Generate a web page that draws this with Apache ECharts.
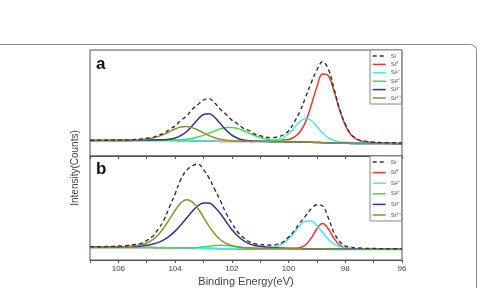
<!DOCTYPE html>
<html><head><meta charset="utf-8">
<script src="https://cdn.jsdelivr.net/npm/echarts@6.0.0/dist/echarts.min.js"></script>
<style>html,body{margin:0;padding:0;background:#fff}#c{width:480px;height:288px}</style>
</head><body><div id="c"></div>
<script>
// Binding energy grid (eV)
const energy = [107.0,106.8,106.6,106.4,106.2,106.0,105.8,105.6,105.4,105.2,
  105.0,104.8,104.6,104.4,104.2,104.0,103.8,103.6,103.4,103.2,
  103.0,102.8,102.6,102.4,102.2,102.0,101.8,101.6,101.4,101.2,
  101.0,100.8,100.6,100.4,100.2,100.0,99.8,99.6,99.4,99.2,
  99.0,98.8,98.6,98.4,98.2,98.0,97.8,97.6,97.4,97.2,
  97.0,96.8,96.6,96.4,96.2,96.0];

// Panel a
const bgA = [15.6,15.6,15.6,15.6,15.6,15.6,15.6,15.6,15.6,15.6,
  15.6,15.5,15.5,15.5,15.4,15.4,15.3,15.2,15.1,15.0,
  14.9,14.8,14.7,14.6,14.5,14.4,14.4,14.3,14.3,14.2,
  14.2,14.2,14.1,14.1,14.1,14.0,14.0,13.9,13.8,13.7,
  13.5,13.3,13.1,12.9,12.8,12.7,12.6,12.6,12.5,12.5,
  12.5,12.4,12.4,12.4,12.3,12.3];
const siA = [0.2,0.0,0.3,0.2,0.4,0.3,0.6,0.5,1.0,1.3,
  2.2,3.0,5.3,7.0,11.2,14.6,20.3,24.6,31.4,36.2,
  41.1,42.6,38.2,32.0,27.1,21.5,17.9,13.6,11.2,7.8,
  6.1,4.6,4.2,4.9,6.9,11.0,19.8,30.5,44.8,59.6,
  72.5,81.0,74.0,55.0,34.2,19.3,9.1,4.9,2.5,2.0,
  1.2,1.1,0.8,1.0,0.7,0.8];
const si0A = [0,0,0,0,0,0,0,0,0,0,
  0,0,0,0,0,0,0,0,0,0,
  0,0,0,0,0,0,0.1,0.2,0.3,0.4,
  0.5,0.6,0.8,1.1,1.9,2.5,4.8,10.1,20.3,37.1,
  55.7,68.6,67.2,52.2,33.3,18.0,8.6,4.1,2.2,1.5,
  1.1,0.9,0.8,0.7,0.6,0.5];
const si1A = [0,0,0,0,0,0,0,0,0,0,
  0,0,0.1,0.1,0.1,0.1,0.1,0.1,0.1,0.2,
  0.2,0.2,0.2,0.2,0.2,0.2,0.3,0.3,0.4,0.5,
  0.7,1.0,1.5,2.5,4.3,8.3,14.2,20.4,23.6,21.8,
  16.0,9.7,5.2,2.6,1.5,1.0,0.8,0.6,0.5,0.4,
  0.3,0.3,0.2,0.2,0.2,0.2];
const si2A = [0,0,0,0,0,0,0,0,0,0,
  0.1,0.2,0.3,0.3,0.4,0.6,1.0,1.5,2.5,3.9,
  5.7,8.0,10.4,12.6,14.0,14.2,13.2,11.2,8.7,6.3,
  4.3,2.8,1.8,1.1,0.7,0.5,0.4,0.3,0.3,0.2,
  0.2,0.1,0.1,0.1,0.1,0.1,0.1,0,0,0,
  0,0,0,0,0,0];
const si3A = [0,0,0,0,0,0,0,0,0.2,0.3,
  0.4,0.5,0.7,0.8,1.4,2.6,5.0,9.1,15.0,21.5,
  26.6,27.4,23.8,17.6,11.4,6.4,3.3,1.7,1.0,0.6,
  0.4,0.3,0.2,0.1,0.1,0,0,0,0,0,
  0,0,0,0,0,0,0,0,0,0,
  0,0,0,0,0,0];
const si4A = [0,0,0.1,0.1,0.2,0.2,0.3,0.4,0.5,0.8,
  1.4,2.4,3.9,6.1,8.9,11.6,13.7,14.3,13.3,11.0,
  8.3,5.6,3.6,2.1,1.2,0.8,0.6,0.5,0.4,0.3,
  0.3,0.2,0.2,0.2,0.1,0.1,0.1,0.1,0.1,0,
  0,0,0,0,0,0,0,0,0,0,
  0,0,0,0,0,0];

// Panel b
const bgB = [12.4,12.4,12.4,12.4,12.4,12.4,12.4,12.4,12.4,12.4,
  12.4,12.4,12.3,12.3,12.2,12.1,12.0,11.9,11.8,11.7,
  11.6,11.5,11.4,11.3,11.2,11.2,11.1,11.1,11.1,11.0,
  11.0,11.0,11.0,11.0,11.0,10.9,10.9,10.9,10.8,10.8,
  10.7,10.7,10.6,10.6,10.6,10.6,10.6,10.6,10.6,10.6,
  10.6,10.6,10.6,10.6,10.6,10.6];
const siB = [0.7,0.9,0.8,1.2,1.2,1.6,1.7,2.4,3.1,4.2,
  7.1,11.0,18.3,27.4,40.8,54.0,68.6,77.5,82.2,84.3,
  79.0,70.4,59.0,47.9,35.5,25.7,17.2,11.6,7.3,5.3,
  4.4,4.1,3.8,4.8,7.0,12.0,18.3,26.2,33.3,40.5,
  44.6,43.3,31.7,16.9,7.9,3.4,2.2,1.4,1.3,0.9,
  1.0,0.7,0.8,0.5,0.7,0.5];
const si0B = [0,0,0,0,0,0,0,0,0,0,
  0,0,0,0,0,0,0,0,0,0,
  0,0,0,0,0,0,0,0,0,0,
  0.1,0.1,0.2,0.2,0.3,0.4,0.7,1.5,4.4,11.1,
  20.6,25.7,20.6,11.1,4.4,1.5,0.7,0.4,0.3,0.2,
  0.2,0.1,0.1,0.1,0.1,0.1];
const si1B = [0,0,0,0,0,0,0,0,0,0,
  0,0,0.1,0.1,0.1,0.1,0.1,0.1,0.1,0.1,
  0.1,0.1,0.1,0.1,0.1,0.2,0.3,0.3,0.4,0.5,
  0.6,0.9,1.5,2.8,5.5,10.2,16.7,23.6,28.3,28.3,
  23.6,16.7,10.2,5.5,2.8,1.5,0.9,0.6,0.5,0.4,
  0.3,0.3,0.2,0.2,0.2,0.2];
const si2B = [0,0,0,0,0,0,0,0,0,0,
  0,0,0,0.1,0.1,0.2,0.2,0.3,0.5,0.9,
  1.6,2.3,3.1,3.5,3.3,2.7,2.0,1.2,0.7,0.4,
  0.3,0.2,0.1,0,0,0,0,0,0,0,
  0,0,0,0,0,0,0,0,0,0,
  0,0,0,0,0,0];
const si3B = [0.3,0.4,0.4,0.5,0.6,0.7,0.8,1.0,1.2,1.6,
  2.3,3.5,5.1,7.8,11.7,16.8,23.0,29.9,36.8,42.3,
  45.5,45.5,41.4,35.0,27.1,19.3,13.1,8.5,5.3,3.6,
  2.8,2.0,1.5,1.2,1.0,0.8,0.7,0.6,0.5,0.5,
  0.4,0.4,0.3,0.3,0.3,0.3,0.3,0.3,0.2,0.2,
  0.2,0.2,0.2,0.2,0.2,0.2];
const si4B = [0.4,0.4,0.5,0.6,0.7,0.8,1.0,1.3,1.8,2.8,
  4.6,7.8,12.8,19.8,28.5,37.4,44.9,48.3,46.4,40.1,
  31.2,22.2,14.7,9.0,5.3,3.2,2.1,1.4,1.1,0.9,
  0.8,0.7,0.6,0.5,0.5,0.4,0.4,0.3,0.3,0.3,
  0.3,0.3,0.3,0.2,0.2,0.2,0.2,0.2,0.2,0.2,
  0.2,0.1,0.1,0.1,0.1,0.1];

const names = ['Si','Si\u2070','Si\u00b9\u207a','Si\u00b2\u207a','Si\u00b3\u207a','Si\u2074\u207a'];
const colors = ['#333333','#ee3636','#4ae4ee','#46dc46','#30309c','#8e8e36'];
const xTickLabels = [106,104,102,100,98,96];
const panelLabels = ['a','b'];

function build(bg, comps, gi) {
  const order = [1,2,3,4,5,0];
  return order.map(k => ({
    name: names[k], type: 'line', xAxisIndex: gi, yAxisIndex: gi,
    symbol: 'none', smooth: 0.4, silent: true, animation: false,
    data: energy.map((e, i) => [e, +(bg[i] + comps[k][i]).toFixed(2)]),
    lineStyle: {color: colors[k], width: k === 0 ? 1.4 : 1.5, type: k === 0 ? [4, 3] : 'solid'},
    itemStyle: {color: colors[k]}
  }));
}

const FONT = '"Liberation Sans", Arial, sans-serif';
function xAxis(gi, labels) {
  return {
    gridIndex: gi, type: 'value', min: 96, max: 107, interval: 1, inverse: true,
    axisLine: {show: true, lineStyle: {color: '#555', width: 1}},
    axisTick: {show: true, length: 3, inside: false, lineStyle: {color: '#555'}},
    splitLine: {show: false},
    axisLabel: {show: labels, fontSize: 8, color: '#444', fontFamily: FONT, margin: 5,
      formatter: v => xTickLabels.includes(v) ? String(v) : ''},
    name: labels ? 'Binding Energy(eV)' : '', nameLocation: 'middle', nameGap: 16,
    nameTextStyle: {fontSize: 11, color: '#444', fontFamily: FONT}
  };
}
function legend(top, gap) {
  return {
    left: 370, top: top, orient: 'vertical', data: names, selectedMode: false,
    itemStyle: {opacity: 0, color: 'rgba(0,0,0,0)', borderColor: 'rgba(0,0,0,0)', borderWidth: 0},
    lineStyle: {width: 1.5},
    itemWidth: 13, itemHeight: 6, itemGap: gap, padding: [3, 1, 3, 2],
    borderColor: '#888', borderWidth: 1, backgroundColor: '#fff',
    textStyle: {fontSize: 6, color: '#555', fontFamily: FONT}
  };
}

const chart = echarts.init(document.getElementById('c'), null, {renderer: 'canvas'});
chart.setOption({
  animation: false,
  grid: [
    {left: 90, top: 50, width: 312, height: 106, show: true, borderColor: '#555', borderWidth: 1},
    {left: 90, top: 156, width: 312, height: 104, show: true, borderColor: '#555', borderWidth: 1}
  ],
  xAxis: [xAxis(0, false), xAxis(1, true)],
  yAxis: [
    {gridIndex: 0, type: 'value', min: 0, max: 106, show: false},
    {gridIndex: 1, type: 'value', min: 0, max: 104, show: false}
  ],
  legend: [legend(50, 2.4), legend(156, 4.6)],
  series: build(bgA, [siA, si0A, si1A, si2A, si3A, si4A], 0)
    .concat(build(bgB, [siB, si0B, si1B, si2B, si3B, si4B], 1)),
  graphic: [
    {type: 'rect', silent: true, shape: {x: -6, y: 44.5, width: 482.5, height: 300, r: 6},
      style: {fill: 'none', stroke: '#888', lineWidth: 1}},
    {type: 'text', left: 96, top: 56, style: {text: panelLabels[0], font: 'bold 17px ' + FONT, fill: '#111'}},
    {type: 'text', left: 96, top: 161, style: {text: panelLabels[1], font: 'bold 17px ' + FONT, fill: '#111'}},
    {type: 'text', x: 75, y: 168, rotation: Math.PI / 2,
      style: {text: 'Intensity(Counts)', font: '10px ' + FONT, fill: '#444', align: 'center', verticalAlign: 'middle'}}
  ]
});
</script>
</body></html>
